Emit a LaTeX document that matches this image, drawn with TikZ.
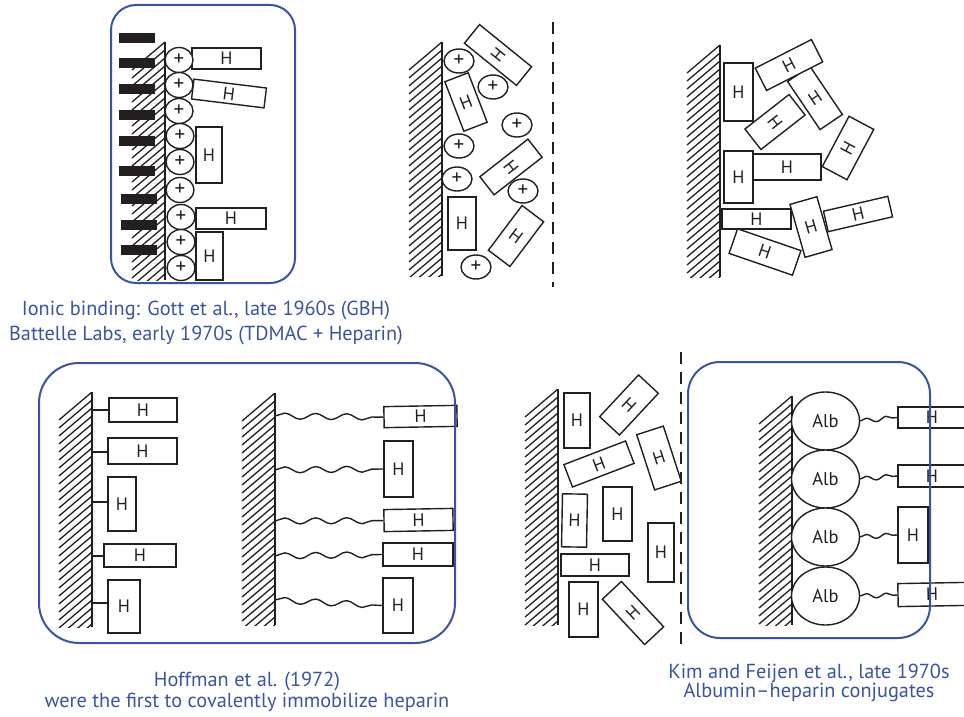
\documentclass[tikz,border=0pt]{standalone}
\usepackage{fontspec}
\setmainfont{PT Sans}
\usetikzlibrary{shapes.geometric,decorations.pathmorphing}
\definecolor{capblue}{HTML}{3A54A4}
\definecolor{ink}{HTML}{231F20}
\newcommand{\hatchwall}[3]{%
  \begin{scope}
    \clip (#1-36,#2) rectangle (#1,#3);
    \foreach \k in {0,...,32} {\draw[hatch] (#1,{#2+\k*8}) -- ++(-33,28);}
  \end{scope}
  \draw[wall] (#1,#2) -- (#1,#3);
}
\begin{document}
\begin{tikzpicture}[x=1pt,y=-1pt,
  wall/.style={draw=ink,line width=2.2pt},
  hatch/.style={draw=ink,line width=1.3pt},
  hb/.style={draw=ink,line width=1.4pt,fill=white,inner sep=0pt,text=ink,font=\fontsize{18}{18}\selectfont},
  hbox/.style 2 args={hb,minimum width=#1,minimum height=#2},
  plus/.style={ellipse,draw=ink,fill=white,line width=1.4pt,inner sep=0pt,text=ink,font=\fontsize{21}{21}\selectfont},
  pl/.style={plus,minimum width=28pt,minimum height=25pt},
  pm/.style={plus,minimum width=30pt,minimum height=24pt},
  bar/.style={rectangle,fill=ink,inner sep=0pt,minimum width=36pt,minimum height=10pt},
  alb/.style={ellipse,draw=ink,fill=white,line width=1.4pt,inner sep=0pt,minimum width=68pt,minimum height=58pt,text=ink,font=\fontsize{18.5}{18.5}\selectfont},
  bluebox/.style={draw=capblue,line width=2pt},
  dashline/.style={draw=ink,line width=1.6pt,dash pattern=on 12pt off 8pt},
  captext/.style={text=capblue,font=\fontsize{20.3}{24}\selectfont,anchor=base,inner sep=0pt},
  link/.style={draw=ink,line width=1.4pt},
  wave/.style={draw=ink,line width=1.4pt,decorate,decoration={snake,amplitude=3pt,segment length=31pt}},
  swave/.style={draw=ink,line width=1.4pt,decorate,decoration={snake,amplitude=2.2pt,segment length=20pt}},
]
\useasboundingbox (0,0) rectangle (964,717);
\fill[white] (0,0) rectangle (964,717);
\clip (0,0) rectangle (964,717);

% ---------------- Panel 1 ----------------
\hatchwall{165}{42}{280}
\foreach \yy/\xx [count=\i] in {38/137,63/137,89/137,115/137,141/137,171/137,199/139,225/139,250/139}
  \node[bar] (bar\i) at (\xx,\yy) {};
\node[hbox={69pt}{21pt}] (p1a) at (226.5,58.5) {H};
\node[hbox={73pt}{20pt},rotate=-7] (p1b) at (229,93.5) {H};
\node[hbox={26pt}{56pt}] (p1c) at (209,155) {H};
\node[hbox={70pt}{21pt}] (p1d) at (231,218.5) {H};
\node[hbox={27pt}{48pt}] (p1e) at (209.5,256) {H};
\foreach \xx/\yy [count=\i] in {179/60,179/85,179/111,180/136,180/162,180/190,181/217,181/242,181/268}
  \node[pl] (c1\i) at (\xx,\yy) {+};
\draw[bluebox,rounded corners=25pt] (111,5) rectangle (295,283);
\node[captext] (cap1a) at (206,315) {Ionic binding: Gott et al., late 1960s (GBH)};
\node[captext] (cap1b) at (206,340) {Battelle Labs, early 1970s (TDMAC + Heparin)};

% ---------------- Panel 2 ----------------
\hatchwall{442}{42}{276}
\coordinate (d1t) at (553,22);
\coordinate (d1b) at (553,287);
\draw[dashline] (d1t) -- (d1b);
\node[hbox={24pt}{67pt},rotate=51] (p2a) at (498,55) {H};
\node[hbox={25pt}{53pt},rotate=21] (p2b) at (466,102) {H};
\node[hbox={23pt}{61pt},rotate=-52] (p2c) at (511,167) {H};
\node[hbox={28pt}{53pt}] (p2d) at (462,223.5) {H};
\node[hbox={27pt}{56pt},rotate=-37] (p2e) at (516,236) {H};
\foreach \xx/\yy [count=\i] in {459/61,493/87,517/125,459/146,457/179,523/191,476/267}
  \node[pm] (c2\i) at (\xx,\yy) {+};

% ---------------- Panel 3 ----------------
\hatchwall{720}{45}{277}
\node[hbox={27pt}{58pt},rotate=34] (p3c) at (815,98) {H};
\node[hbox={63pt}{25pt},rotate=27] (p3b) at (789,65) {H};
\node[hbox={26pt}{56pt},rotate=-52] (p3d) at (775,122) {H};
\node[hbox={29pt}{58pt}] (p3a) at (738.5,92) {H};
\node[hbox={57pt}{28pt},rotate=62] (p3e) at (848,148) {H};
\node[hbox={29pt}{52pt}] (p3f) at (738.5,177) {H};
\node[hbox={68pt}{26pt}] (p3g) at (787,167) {H};
\node[hbox={69pt}{20pt}] (p3h) at (756.5,219) {H};
\node[hbox={67pt}{26pt},rotate=-19] (p3k) at (765,252) {H};
\node[hbox={66pt}{21pt},rotate=13] (p3j) at (858,214) {H};
\node[hbox={28pt}{55pt},rotate=16] (p3i) at (811,227) {H};

% ---------------- Panel 4 ----------------
\hatchwall{92}{392}{627}
\node[hbox={68pt}{24pt}] (q1) at (143,410) {H};
\node[hbox={69pt}{26pt}] (q2) at (142.5,451) {H};
\node[hbox={28pt}{54pt}] (q3) at (122,504) {H};
\node[hbox={72pt}{23pt}] (q4) at (140,555.5) {H};
\node[hbox={32pt}{53pt}] (q5) at (124,606.5) {H};
\foreach \yy [count=\i] in {410,452,502,556,603} {
  \coordinate (w\i) at (92,\yy);
  \draw[link] (w\i) -- (w\i -| q\i.west);
}
\hatchwall{275}{393}{625}
\node[hbox={73pt}{21pt},rotate=1] (r1) at (420.5,416.5) {H};
\node[hbox={29pt}{56pt}] (r2) at (398.5,469) {H};
\node[hbox={69pt}{22pt},rotate=1] (r3) at (418.5,520) {H};
\node[hbox={70pt}{23pt}] (r4) at (418,554.5) {H};
\node[hbox={30pt}{55pt}] (r5) at (398,605.5) {H};
\foreach \yy [count=\i] in {416,470,521,556,600} {
  \coordinate (v\i) at (275,\yy);
  \draw[wave] (v\i) -- (r\i.west);
}
\draw[bluebox,rounded corners=40pt] (39,363) rectangle (455,643);
\node[captext] (cap4a) at (247,686) {Hoffman et al. (1972)};
\node[captext] (cap4b) at (247,707) {were the first to covalently immobilize heparin};

% ---------------- Panel 5 ----------------
\hatchwall{558}{389}{625}
\coordinate (d2t) at (681,352);
\coordinate (d2b) at (681,650);
\draw[dashline] (d2t) -- (d2b);
\node[hbox={26pt}{55pt}] (s1) at (577,420.5) {H};
\node[hbox={27pt}{57pt},rotate=-43] (s2) at (629,405) {H};
\node[hbox={66pt}{24pt},rotate=21] (s3) at (599,464) {H};
\node[hbox={28pt}{58pt},rotate=18] (s4) at (659,458) {H};
\node[hbox={25pt}{53pt},rotate=-1] (s5) at (574.5,520.5) {H};
\node[hbox={29pt}{54pt}] (s6) at (617.5,514) {H};
\node[hbox={26pt}{59pt}] (s7) at (661,552.5) {H};
\node[hbox={68pt}{22pt}] (s8) at (595,565) {H};
\node[hbox={29pt}{55pt}] (s9) at (583.5,609.5) {H};
\node[hbox={26pt}{62pt},rotate=43] (s10) at (633,613) {H};

% ---------------- Panel 6 ----------------
\hatchwall{792}{396}{625}
\foreach \yy [count=\i] in {421,479,537,596}
  \node[alb] (alb\i) at (825.5,\yy) {Alb};
\node[hbox={68pt}{21pt}] (t1) at (932,417.5) {H};
\node[hbox={68pt}{22pt}] (t2) at (932,476) {H};
\node[hbox={30pt}{56pt}] (t3) at (913,535) {H};
\node[hbox={68pt}{23pt},rotate=1] (t4) at (932,594.5) {H};
\foreach \i in {1,...,4}
  \draw[swave] (alb\i.east) -- (t\i.west);
\draw[bluebox,rounded corners=32pt] (688,362) rectangle (930,638);
\node[captext] (cap6a) at (809,678) {Kim and Feijen et al., late 1970s};
\node[captext] (cap6b) at (809,697) {Albumin–heparin conjugates};
\end{tikzpicture}
\end{document}
